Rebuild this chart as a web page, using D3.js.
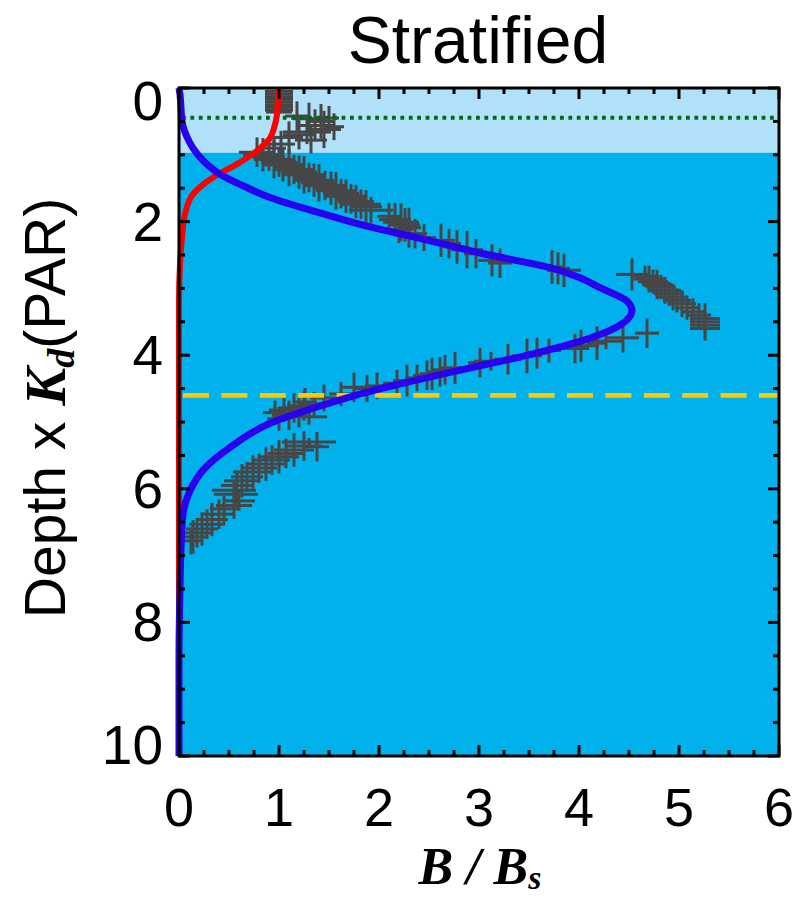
<!DOCTYPE html>
<html>
<head>
<meta charset="utf-8">
<script src="https://cdn.jsdelivr.net/npm/d3@7"></script>
<style>
  body { margin: 0; background: #fff; }
  text { font-family: "Liberation Sans", Arial, sans-serif; }
</style>
</head>
<body>
<svg id="chart" width="799" height="897"></svg>
<script>
// axis ticks
var xTicks = [0, 1, 2, 3, 4, 5, 6];
var yTicks = [0, 2, 4, 6, 8, 10];

// reference depths
var mixedLayerDepth = 0.97;
var dottedDepth = 0.445;
var dashedDepth = 4.6;

// red model curve (B/Bs vs depth)
var redX     = [1.0, 0.99, 0.98, 0.95, 0.91, 0.78, 0.58, 0.34, 0.14, 0.06, 0.03, 0.01, 0.0, 0.0];
var redDepth = [0.0, 0.2, 0.4, 0.6, 0.75, 0.94, 1.14, 1.34, 1.59, 1.89, 2.24, 2.64, 3.2, 10];

// blue model curve
var blueX     = [0.0, 0.01, 0.02, 0.03, 0.07, 0.14, 0.25, 0.41, 0.65, 0.91, 1.41, 1.91, 2.41, 3.01, 3.71, 4.01, 4.21, 4.48, 4.53, 4.44, 4.08, 3.54, 2.88, 2.21, 1.91, 1.41, 0.91, 0.51, 0.24, 0.11, 0.04, 0.02, 0.01, 0.0, 0.0];
var blueDepth = [0.0, 0.1, 0.3, 0.5, 0.7, 0.9, 1.1, 1.29, 1.47, 1.64, 1.87, 2.08, 2.25, 2.47, 2.69, 2.84, 2.99, 3.19, 3.33, 3.52, 3.76, 3.98, 4.2, 4.43, 4.54, 4.76, 5.02, 5.38, 5.72, 6.03, 6.38, 6.9, 7.5, 8.5, 10];

// observations with error bars
var obsX = [
  1.00, 1.00, 1.00, 1.00, 1.00, 1.00, 1.00, 1.00, 1.00,
  1.18, 1.30, 1.42, 1.50, 1.36, 1.45, 1.28, 1.20, 1.10, 1.32, 1.02, 0.95, 1.55,
  0.78, 0.84, 0.90, 0.95, 1.00, 1.04, 1.10, 1.15, 1.20, 1.25, 1.30, 1.35, 1.40, 1.46, 1.52, 1.57, 1.62, 1.67, 1.72, 1.77, 1.82, 1.87, 1.92,
  2.10, 2.16, 2.22, 2.26, 2.30, 2.20, 2.36, 2.45,
  2.62, 2.70, 2.78, 2.88, 2.97, 3.13, 3.21, 3.73, 3.79, 3.85,
  4.53, 4.66, 4.70, 4.74, 4.78, 4.82, 4.86, 4.90, 4.94, 4.98, 5.03, 5.08, 5.14, 5.20, 5.26, 5.26, 5.26, 5.26,
  4.68, 4.44, 4.27, 4.18, 4.02, 3.96, 3.70, 3.58, 3.48, 3.29, 3.12, 3.01, 2.76, 2.66, 2.61, 2.53, 2.48, 2.38, 2.28, 2.18, 1.98, 1.88, 1.75, 1.62, 1.45,
  1.26, 1.35, 1.25, 1.15, 1.05, 0.96, 1.20, 1.10, 1.00, 1.30,
  1.30, 1.38, 1.25, 1.15, 1.07, 1.00, 0.93, 0.87, 0.80, 0.74, 0.68, 0.63, 0.58, 0.55, 0.57, 0.60, 0.55, 0.45, 0.40, 0.33, 0.28, 0.23, 0.18, 0.14, 0.12
];
var obsDepth = [
  0.05, 0.09, 0.13, 0.17, 0.21, 0.25, 0.29, 0.33, 0.36,
  0.42, 0.46, 0.50, 0.45, 0.56, 0.62, 0.66, 0.70, 0.74, 0.78, 0.84, 0.90, 0.58,
  0.96, 1.00, 1.04, 1.07, 1.11, 1.15, 1.19, 1.22, 1.26, 1.30, 1.34, 1.38, 1.42, 1.46, 1.50, 1.54, 1.58, 1.62, 1.66, 1.70, 1.74, 1.78, 1.83,
  1.92, 1.97, 2.01, 2.05, 2.09, 2.12, 2.18, 2.24,
  2.28, 2.33, 2.38, 2.42, 2.48, 2.58, 2.62, 2.68, 2.70, 2.73,
  2.79, 2.82, 2.86, 2.90, 2.94, 2.98, 3.03, 3.08, 3.13, 3.18, 3.23, 3.29, 3.35, 3.40, 3.45, 3.50, 3.55, 3.60,
  3.67, 3.74, 3.79, 3.82, 3.86, 3.90, 3.93, 3.97, 4.01, 4.06, 4.09, 4.11, 4.19, 4.22, 4.25, 4.28, 4.30, 4.34, 4.38, 4.42, 4.46, 4.50, 4.48, 4.58, 4.64,
  4.70, 4.73, 4.76, 4.79, 4.82, 4.86, 4.86, 4.90, 4.95, 4.92,
  5.30, 5.37, 5.36, 5.42, 5.47, 5.52, 5.57, 5.63, 5.69, 5.75, 5.82, 5.88, 5.95, 6.02, 6.08, 6.18, 6.25, 6.30, 6.38, 6.46, 6.53, 6.60, 6.66, 6.72, 6.78
];
var obsXErr = [
  0.14, 0.14, 0.14, 0.14, 0.14, 0.14, 0.14, 0.14, 0.13,
  0.12, 0.16, 0.14, 0.10, 0.18, 0.17, 0.24, 0.16, 0.14, 0.16, 0.14, 0.12, 0.10,
  0.18, 0.20, 0.16, 0.20, 0.18, 0.20, 0.16, 0.20, 0.18, 0.20, 0.16, 0.20, 0.18, 0.20, 0.16, 0.20, 0.18, 0.20, 0.16, 0.18, 0.20, 0.16, 0.22,
  0.12, 0.16, 0.18, 0.15, 0.12, 0.14, 0.12, 0.12,
  0.14, 0.12, 0.12, 0.16, 0.12, 0.14, 0.12, 0.12, 0.12, 0.17,
  0.16, 0.14, 0.15, 0.15, 0.15, 0.15, 0.16, 0.15, 0.15, 0.14, 0.14, 0.12, 0.12, 0.12, 0.15, 0.15, 0.15, 0.15,
  0.12, 0.16, 0.16, 0.10, 0.18, 0.14, 0.12, 0.10, 0.15, 0.14, 0.17, 0.12, 0.14, 0.12, 0.14, 0.12, 0.14, 0.12, 0.14, 0.14, 0.12, 0.12, 0.12, 0.12, 0.14,
  0.12, 0.15, 0.17, 0.15, 0.15, 0.12, 0.12, 0.17, 0.12, 0.18,
  0.27, 0.12, 0.18, 0.20, 0.18, 0.20, 0.18, 0.20, 0.18, 0.20, 0.16, 0.18, 0.16, 0.22, 0.22, 0.16, 0.18, 0.14, 0.16, 0.16, 0.18, 0.16, 0.16, 0.14, 0.12
];
var obsDepthErr = [
  0.04, 0.04, 0.04, 0.04, 0.04, 0.04, 0.04, 0.04, 0.03,
  0.22, 0.24, 0.26, 0.18, 0.24, 0.28, 0.18, 0.22, 0.24, 0.20, 0.20, 0.18, 0.20,
  0.22, 0.25, 0.20, 0.28, 0.22, 0.25, 0.28, 0.22, 0.25, 0.28, 0.22, 0.25, 0.28, 0.22, 0.25, 0.28, 0.22, 0.25, 0.22, 0.25, 0.22, 0.25, 0.20,
  0.20, 0.25, 0.28, 0.25, 0.30, 0.20, 0.22, 0.20,
  0.25, 0.22, 0.25, 0.28, 0.22, 0.24, 0.22, 0.25, 0.24, 0.25,
  0.24, 0.16, 0.20, 0.18, 0.22, 0.18, 0.20, 0.18, 0.20, 0.18, 0.20, 0.18, 0.20, 0.18, 0.10, 0.28, 0.10, 0.08,
  0.22, 0.22, 0.12, 0.25, 0.24, 0.22, 0.18, 0.23, 0.26, 0.23, 0.14, 0.22, 0.24, 0.22, 0.22, 0.24, 0.22, 0.20, 0.24, 0.20, 0.20, 0.20, 0.22, 0.18, 0.20,
  0.21, 0.18, 0.22, 0.22, 0.18, 0.18, 0.22, 0.22, 0.18, 0.12,
  0.06, 0.22, 0.22, 0.25, 0.22, 0.25, 0.22, 0.25, 0.22, 0.25, 0.22, 0.25, 0.22, 0.12, 0.20, 0.15, 0.20, 0.22, 0.22, 0.25, 0.22, 0.25, 0.22, 0.25, 0.20
];

var margin = {left: 179, right: 20, top: 88, bottom: 141};
var svg = d3.select("#chart");
var W = 799, H = 897;

var x = d3.scaleLinear().domain([0, 6]).range([margin.left, W - margin.right]);
var y = d3.scaleLinear().domain([0, 10]).range([margin.top, H - margin.bottom]);

// background layers
svg.append("rect")
  .attr("x", x(0)).attr("y", y(0))
  .attr("width", x(6) - x(0)).attr("height", y(10) - y(0))
  .attr("fill", "#00b1ec");
svg.append("rect")
  .attr("x", x(0)).attr("y", y(0))
  .attr("width", x(6) - x(0)).attr("height", y(mixedLayerDepth) - y(0))
  .attr("fill", "#b1e1fa");

// observations
var obs = obsX.map(function(v, i) {
  return {x: v, d: obsDepth[i], xe: obsXErr[i], de: obsDepthErr[i]};
});
var gObs = svg.append("g").attr("stroke", "#464646").attr("stroke-width", 3);
gObs.selectAll(".h").data(obs).enter().append("line")
  .attr("x1", function(d) { return x(d.x - d.xe); })
  .attr("x2", function(d) { return x(d.x + d.xe); })
  .attr("y1", function(d) { return y(d.d); })
  .attr("y2", function(d) { return y(d.d); });
gObs.selectAll(".v").data(obs).enter().append("line")
  .attr("x1", function(d) { return x(d.x); })
  .attr("x2", function(d) { return x(d.x); })
  .attr("y1", function(d) { return y(Math.max(0, d.d - d.de)); })
  .attr("y2", function(d) { return y(d.d + d.de); });

// reference lines
svg.append("line")
  .attr("x1", x(0) + 3).attr("x2", x(6))
  .attr("y1", y(dottedDepth)).attr("y2", y(dottedDepth))
  .attr("stroke", "#006a10").attr("stroke-width", 4.2)
  .attr("stroke-dasharray", "3.8,4.6");
svg.append("line")
  .attr("x1", x(0) + 4).attr("x2", x(6))
  .attr("y1", y(dashedDepth)).attr("y2", y(dashedDepth))
  .attr("stroke", "#ffc800").attr("stroke-width", 4.7)
  .attr("stroke-dasharray", "26,12.4");

// model curves
var line = d3.line()
  .x(function(d) { return x(d[0]); })
  .y(function(d) { return y(d[1]); })
  .curve(d3.curveMonotoneY);

svg.append("path")
  .datum(redX.map(function(v, i) { return [v, redDepth[i]]; }))
  .attr("d", line)
  .attr("fill", "none").attr("stroke", "#ff0000").attr("stroke-width", 6);
svg.append("path")
  .datum(blueX.map(function(v, i) { return [v, blueDepth[i]]; }))
  .attr("d", line)
  .attr("fill", "none").attr("stroke", "#2a00f0").attr("stroke-width", 7);

// frame + ticks on all four sides
var frame = svg.append("g").attr("stroke", "#000").attr("stroke-width", 3);
frame.append("rect")
  .attr("x", x(0)).attr("y", y(0))
  .attr("width", x(6) - x(0)).attr("height", y(10) - y(0))
  .attr("fill", "none");

var xMinor = d3.range(0, 6.001, 0.25);
var yMinor = d3.range(0, 10.001, 0.5);
xMinor.forEach(function(v) {
  var major = Math.abs(v - Math.round(v)) < 1e-6;
  var len = major ? 11 : 6;
  frame.append("line").attr("x1", x(v)).attr("x2", x(v)).attr("y1", y(10)).attr("y2", y(10) - len);
  frame.append("line").attr("x1", x(v)).attr("x2", x(v)).attr("y1", y(0)).attr("y2", y(0) + len);
});
yMinor.forEach(function(v) {
  var major = Math.abs(v / 2 - Math.round(v / 2)) < 1e-6;
  var len = major ? 11 : 6;
  frame.append("line").attr("y1", y(v)).attr("y2", y(v)).attr("x1", x(0)).attr("x2", x(0) + len);
  frame.append("line").attr("y1", y(v)).attr("y2", y(v)).attr("x1", x(6)).attr("x2", x(6) - len);
});

// tick labels
svg.selectAll(".xl").data(xTicks).enter().append("text")
  .attr("x", function(d) { return x(d); })
  .attr("y", 826)
  .attr("text-anchor", "middle")
  .attr("font-size", 54)
  .text(function(d) { return d; });

svg.selectAll(".yl").data(yTicks).enter().append("text")
  .attr("x", 163)
  .attr("y", function(d) {
    var shift = d === 0 ? 13 : (d === 10 ? -11 : 0);
    return y(d) + 19 + shift;
  })
  .attr("text-anchor", "end")
  .attr("font-size", 55)
  .text(function(d) { return d; });

// title
svg.append("text")
  .attr("x", 478).attr("y", 63)
  .attr("text-anchor", "middle")
  .attr("font-size", 66)
  .text("Stratified");

// x label: B / Bs
var xl = svg.append("text")
  .attr("x", 480).attr("y", 884)
  .attr("text-anchor", "middle")
  .style("font-family", "'Liberation Serif', 'Times New Roman', serif")
  .style("font-weight", "bold").style("font-style", "italic")
  .attr("font-size", 52);
xl.append("tspan").text("B / B");
xl.append("tspan").attr("font-size", 34).attr("dy", 5).text("s");

// y label: Depth x Kd(PAR)
var yl = svg.append("text")
  .attr("transform", "translate(65,408) rotate(-90)")
  .attr("text-anchor", "middle")
  .attr("font-size", 57);
yl.append("tspan").text("Depth x ");
yl.append("tspan")
  .style("font-family", "'Liberation Serif', 'Times New Roman', serif")
  .style("font-weight", "bold").style("font-style", "italic")
  .text("K");
yl.append("tspan")
  .style("font-family", "'Liberation Serif', 'Times New Roman', serif")
  .style("font-weight", "bold").style("font-style", "italic")
  .attr("font-size", 38).attr("dy", 9).text("d");
yl.append("tspan").attr("dy", -9).text("(PAR)");
</script>
</body>
</html>
